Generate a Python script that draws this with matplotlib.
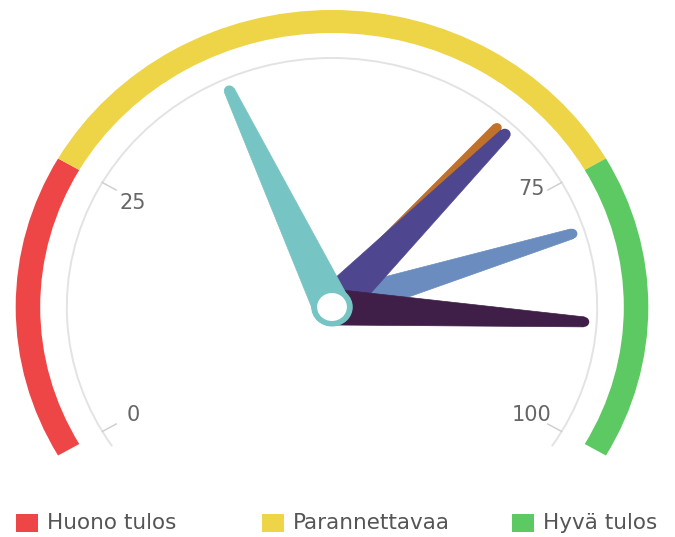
import numpy as np
import matplotlib
matplotlib.use("Agg")
import matplotlib.pyplot as plt
from matplotlib.patches import Wedge, Arc, Polygon, Circle, Rectangle

# gauge data
band_names = ["Huono tulos", "Parannettavaa", "Hyvä tulos"]
band_from = [0, 25, 75]
band_to = [25, 75, 100]
band_colors = ["#ee4646", "#eed547", "#5dc962"]

tick_values = [0, 25, 75, 100]

needle_values = [80, 67, 68, 89, 40]
needle_colors = ["#6a8cbe", "#c0712c", "#4f4690", "#3f1f48", "#76c4c3"]

# needle shapes (base width, tip width)
needle_base = [32, 28, 38, 36, 36]
needle_tip = [10, 9, 11, 10, 10]

# small vertical nudge of the tick labels (px), like the original layout
label_nudge = {0: 0, 25: -4, 75: 10, 100: 0}

W, H = 675, 537
CX, CY = 332, 307      # hub position in pixels (from top-left)
SX = 1.065             # the picture is a bit wider than tall


def ang(v):
    # value -> matplotlib angle (deg), gauge spans -120..120 from the top
    return 90 - (-120 + 240 * v / 100.0)


fig = plt.figure(figsize=(W / 100, H / 100), dpi=100)
ax = fig.add_axes([0, 0, 1, 1])
ax.set_xlim(-CX / SX, (W - CX) / SX)
ax.set_ylim(-(H - CY), CY)
ax.axis("off")

# coloured bands
for b0, b1, c in zip(band_from, band_to, band_colors):
    ax.add_patch(Wedge((0, 0), 297, ang(b1), ang(b0), width=23, color=c, lw=0))

# grey pane line and ticks
ax.add_patch(Arc((0, 0), 2 * 249, 2 * 249, theta1=-34, theta2=214,
                 color="#e3e3e3", lw=1.4))
for v in tick_values:
    t = np.radians(ang(v))
    ax.plot([249 * np.cos(t), 234 * np.cos(t)], [249 * np.sin(t), 234 * np.sin(t)],
            color="#d0d0d0", lw=1.1)
    ax.text(216 * np.cos(t), 216 * np.sin(t) + label_nudge[v], str(v),
            ha="center", va="center", fontsize=15, color="#666666")

# needles
L = 237
for i, (v, c) in enumerate(zip(needle_values, needle_colors)):
    wb, wt = needle_base[i], needle_tip[i]
    t = np.radians(ang(v))
    u = np.array([np.cos(t), np.sin(t)])
    n = np.array([-np.sin(t), np.cos(t)])
    pts = [n * wb / 2, L * u + n * wt / 2, L * u - n * wt / 2, -n * wb / 2]
    z = 3 + i
    ax.add_patch(Polygon(pts, closed=True, fc=c, ec=c, lw=0.5, zorder=z))
    ax.add_patch(Circle(L * u, wt / 2, fc=c, ec="none", zorder=z))
    ax.add_patch(Circle((0, 0), wb / 2, fc=c, ec="none", zorder=z))

# pivot of the teal needle
ax.add_patch(Circle((0, 0), 19.5, fc=needle_colors[-1], ec="none", zorder=20))
ax.add_patch(Circle((0, 0), 14, fc="white", ec="none", zorder=21))

# legend
leg_x = [16, 262, 512]
for x0, name, c in zip(leg_x, band_names, band_colors):
    fig.add_artist(Rectangle((x0 / W, 1 - 532 / H), 22 / W, 18 / H,
                             transform=fig.transFigure, fc=c, ec="none"))
    fig.text((x0 + 31) / W, 1 - 523 / H, name, ha="left", va="center",
             fontsize=15.5, color="#555555")

fig.savefig("out.png", dpi=100)
